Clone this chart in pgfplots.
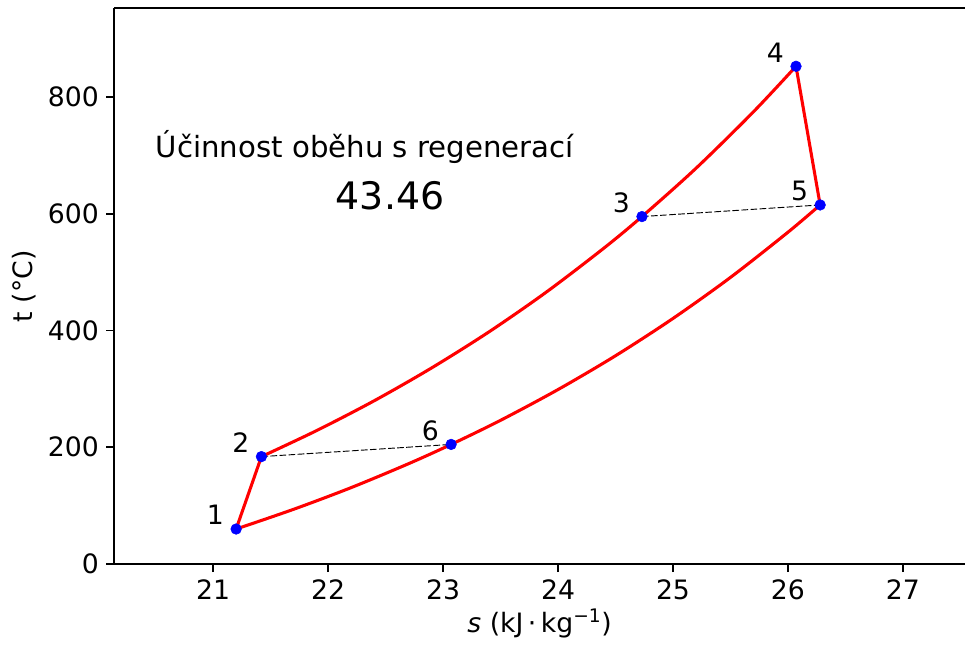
\documentclass[border=0pt]{standalone}
\usepackage{fontspec}
\setmainfont{DejaVu Sans}
\usepackage{pgfplots}
\pgfplotsset{compat=1.18}
\begin{document}
\begin{tikzpicture}
\begin{axis}[name=ax, scale only axis, width=638pt, height=416.8pt,
  xmin=20.14, xmax=27.54, ymin=0, ymax=952,
  axis lines*=left, axis line style={-, line width=1.2pt, black},
  clip=false,
  xtick={21,22,23,24,25,26,27}, ytick={0,200,400,600,800},
  tick align=outside, major tick length=6pt,
  every tick/.style={black, line width=1.2pt},
  /pgf/number format/assume math mode=true,
  tick label style={font=\fontsize{20}{23}\selectfont},
  xticklabel style={yshift=-2pt},
  yticklabel style={xshift=-2pt},
  xlabel={\textit{s} (kJ\,·\,kg\textsuperscript{−1})},
  ylabel={t (°C)},
  xlabel style={font=\fontsize{20}{23}\selectfont},
  every axis y label/.style={at={(axis description cs:-0.1061,0.5)}, rotate=90, anchor=center, font=\fontsize{20}{23}\selectfont},
]
\draw[line width=1.2pt] (rel axis cs:0,1) -- (rel axis cs:1,1);
% compression 1-2
\addplot[red, line width=2.3pt] coordinates {(21.2,60) (21.42,184)};
% heat addition 2-3-4 (isobar)
\addplot[red, line width=2.3pt, smooth, tension=0.5, line join=round] coordinates {
(21.42,184.0) (21.9,228.6) (22.4,279.6) (22.9,335.9) (23.4,397.8)
(23.9,466.1) (24.4,541.3) (24.73,595.2) (25.2,677.9) (25.7,774.7) (26.07,852.6)};
% expansion 4-5
\addplot[red, line width=2.3pt] coordinates {(26.07,852.6) (26.28,615.1)};
% heat rejection 1-6-5 (isobar)
\addplot[red, line width=2.3pt, smooth, tension=0.5, line join=round] coordinates {
(21.2,60.0) (21.7,93.8) (22.2,130.9) (22.7,171.9) (23.07,204.9) (23.5,246.2)
(24.0,298.9) (24.5,356.8) (25.0,420.7) (25.5,491.0) (26.0,568.4) (26.28,615.1)};
% regeneration
\addplot[black, line width=0.7pt, dash pattern=on 5pt off 1.8pt] coordinates {(21.42,184) (23.07,204.9)};
\addplot[black, line width=0.7pt, dash pattern=on 5pt off 1.8pt] coordinates {(24.73,595.2) (26.28,615.1)};
% state points
\addplot[only marks, mark=*, mark size=4pt, mark options={draw=blue, fill=blue}] coordinates {
(21.2,60) (21.42,184) (24.73,595.2) (26.07,852.6) (26.28,615.1) (23.07,204.9)};
\begin{scope}[every node/.style={font=\fontsize{20}{23}\selectfont, anchor=center, xshift=-15.5pt, yshift=10.5pt}]
\node at (axis cs:21.2,60) {1};
\node at (axis cs:21.42,184) {2};
\node at (axis cs:24.73,595.2) {3};
\node at (axis cs:26.07,852.6) {4};
\node at (axis cs:26.28,615.1) {5};
\node at (axis cs:23.07,204.9) {6};
\end{scope}
\node[anchor=base west, inner sep=0pt, font=\fontsize{21.9}{26}\selectfont] at (axis cs:20.5,697) {Účinnost oběhu s regenerací};
\node[anchor=base west, inner sep=0pt, font=\fontsize{28.4}{33}\selectfont] at (axis cs:22.065,608) {43.46};
\end{axis}
\pgfresetboundingbox
\path ([xshift=-85.7pt, yshift=-63pt]ax.south west) rectangle ([yshift=6.2pt]ax.north east);
\end{tikzpicture}
\end{document}
